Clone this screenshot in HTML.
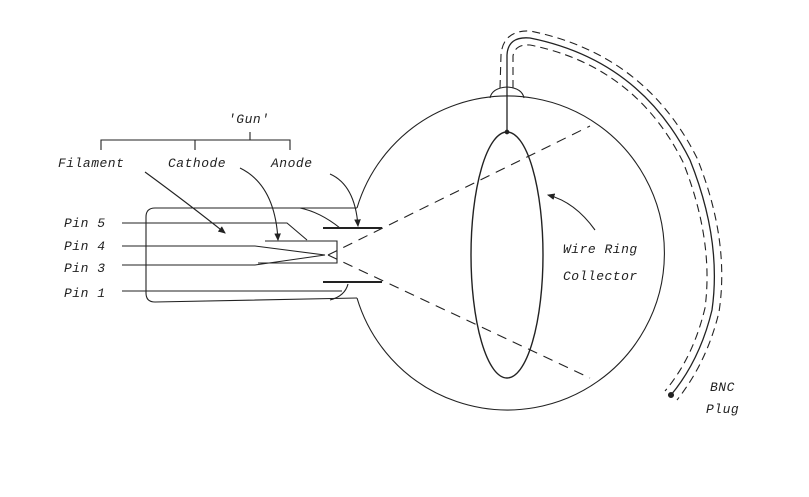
<!DOCTYPE html>
<html><head><meta charset="utf-8"><style>
html,body{margin:0;padding:0;background:#fff;}
svg{display:block}
text{font-family:"Liberation Mono",monospace;font-style:italic;font-size:13px;fill:#222;letter-spacing:0.5px}
</style></head><body>
<svg width="809" height="497" viewBox="0 0 809 497" xmlns="http://www.w3.org/2000/svg">
<defs><marker id="ah" markerWidth="8" markerHeight="8" refX="6" refY="3" orient="auto"><path d="M0,0 L7,3 L0,6 Z" fill="#222"/></marker></defs>
<g fill="none" stroke="#222" stroke-width="1.1">
<!-- sphere -->
<path d="M357,208 A157,157 0 1 1 357,298"/>
<!-- neck -->
<path d="M357,208 L155,208 Q146,208 146,217 L146,293 Q146,302 155,302 L357,298"/>
<path d="M300,208 Q320,212 340,228"/>
<path d="M330,300 Q345,296 348,284"/>
<!-- dome -->
<path d="M490,98 Q492,88 507,87 Q522,88 524,98"/>
<!-- ellipse -->
<ellipse cx="507" cy="255" rx="36" ry="123" stroke-width="1.4"/>
<circle cx="507" cy="132" r="1.8" fill="#222"/>
<!-- cable -->
<path d="M507,132 L507,55 Q508,36 530,38 Q640,60 690,160 Q722,240 712,310 Q700,360 671,395" stroke-width="1.3"/>
<path d="M500,88 L501,55 Q503,30 530,31 Q645,54 697,158 Q730,240 719,312 Q707,362 677,400" stroke-dasharray="8,5"/>
<path d="M513,88 L513,56 Q515,44 530,45 Q635,66 683,162 Q714,240 705,308 Q693,358 665,391" stroke-dasharray="8,5"/>
<circle cx="671" cy="395" r="2.5" fill="#222"/>
<!-- beam dashed -->
<path d="M328,255 L590,126" stroke-dasharray="10,7"/>
<path d="M328,255 L590,378" stroke-dasharray="10,7"/>
<!-- pins -->
<path d="M122,223 L287,223 L307,240"/>
<path d="M265,241 L337,241 L337,263 L258,263"/>
<path d="M122,246 L255,246 L325,255 L255,265 L122,265"/>
<path d="M122,291 L342,291"/>
<!-- anode plates -->
<path d="M323,228 L382,228" stroke-width="2"/>
<path d="M323,282 L382,282" stroke-width="2"/>
<!-- gun bracket -->
<path d="M101,150 L101,140 L290,140 L290,150 M195,140 L195,150 M250,140 L250,132"/>
<!-- arrows -->
<path d="M145,172 Q190,205 225,233" marker-end="url(#ah)"/>
<path d="M240,168 Q275,185 278,240" marker-end="url(#ah)"/>
<path d="M330,174 Q355,185 358,226" marker-end="url(#ah)"/>
<path d="M595,230 Q575,202 548,195" marker-end="url(#ah)"/>
</g>
<text x="228" y="123">'Gun'</text>
<text x="58" y="167">Filament</text>
<text x="168" y="167">Cathode</text>
<text x="271" y="167">Anode</text>
<text x="64" y="227">Pin 5</text>
<text x="64" y="250">Pin 4</text>
<text x="64" y="272">Pin 3</text>
<text x="64" y="297">Pin 1</text>
<text x="563" y="253">Wire Ring</text>
<text x="563" y="280">Collector</text>
<text x="710" y="391">BNC</text>
<text x="706" y="413">Plug</text>
</svg>
</body></html>
